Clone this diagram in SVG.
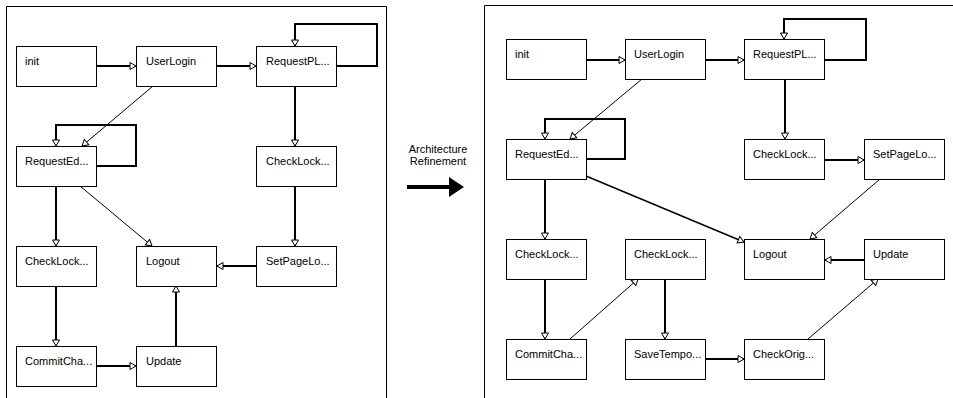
<svg xmlns="http://www.w3.org/2000/svg" width="953" height="398" viewBox="0 0 953 398">
  <style>
    .frame { fill: none; stroke: #000; stroke-width: 1; }
    .node rect { fill: #fff; stroke: #000; stroke-width: 1; }
    .node text, .caption { font-family: "Liberation Sans", Arial, sans-serif; font-size: 11px; fill: #000; }
    .thick { fill: none; stroke: #000; stroke-width: 2; marker-end: url(#tri); }
    .thin { fill: none; stroke: #000; stroke-width: 1; marker-end: url(#tri); }
    .mid { fill: none; stroke: #000; stroke-width: 1.5; marker-end: url(#tri); }
  </style>
  <defs>
    <marker id="tri" markerUnits="userSpaceOnUse" markerWidth="10" markerHeight="10" refX="6" refY="3.5" orient="auto" overflow="visible">
      <path d="M0,0 L6,3.5 L0,7 Z" fill="#fff" stroke="#000" stroke-width="1"/>
    </marker>
  </defs>
  <rect width="953" height="398" fill="#fff"/>

  <!-- panel frames (open at the bottom) -->
  <path class="frame" d="M6.5,398 V6.5 H386.5 V398"/>
  <path class="frame" d="M484.5,398 V5.5 H953"/>

  <!-- left panel connectors -->
  <g id="connectors-left">
    <path class="thick" d="M97,66 H136"/>
    <path class="thick" d="M217,66 H256"/>
    <path class="thick" d="M336,66 H377 V24 H295 V46"/>
    <path class="thin" d="M153,86 L82,146"/>
    <path class="thick" d="M97,166 H136 V125 H56 V146"/>
    <path class="thick" d="M295,86 V146"/>
    <path class="thin" d="M80,186 L152,246"/>
    <path class="thick" d="M56,186 V246"/>
    <path class="thick" d="M295,186 V246"/>
    <path class="thick" d="M256,266 H217"/>
    <path class="thick" d="M56,286 V346"/>
    <path class="thick" d="M97,366 H136"/>
    <path class="thick" d="M176,346 V286"/>
  </g>

  <!-- left panel nodes -->
  <g id="l-init" class="node"><rect x="16.5" y="46.5" width="80" height="40"/><text x="25" y="65">init</text></g>
  <g id="l-userlogin" class="node"><rect x="136.5" y="46.5" width="80" height="40"/><text x="146" y="65">UserLogin</text></g>
  <g id="l-requestpl" class="node"><rect x="256.5" y="46.5" width="80" height="40"/><text x="266" y="65">RequestPL...</text></g>
  <g id="l-requested" class="node"><rect x="16.5" y="146.5" width="80" height="40"/><text x="25" y="165">RequestEd...</text></g>
  <g id="l-checklock-a" class="node"><rect x="256.5" y="146.5" width="80" height="40"/><text x="266" y="165">CheckLock...</text></g>
  <g id="l-checklock-b" class="node"><rect x="16.5" y="246.5" width="80" height="40"/><text x="25" y="265">CheckLock...</text></g>
  <g id="l-logout" class="node"><rect x="136.5" y="246.5" width="80" height="40"/><text x="146" y="265">Logout</text></g>
  <g id="l-setpagelo" class="node"><rect x="256.5" y="246.5" width="80" height="40"/><text x="266" y="265">SetPageLo...</text></g>
  <g id="l-commitcha" class="node"><rect x="16.5" y="346.5" width="80" height="40"/><text x="25" y="365">CommitCha...</text></g>
  <g id="l-update" class="node"><rect x="136.5" y="346.5" width="80" height="40"/><text x="146" y="365">Update</text></g>

  <!-- transition arrow between panels -->
  <g id="refinement">
    <text class="caption" x="438" y="153" text-anchor="middle">Architecture</text>
    <text class="caption" x="438" y="165" text-anchor="middle">Refinement</text>
    <path d="M407,187 H452" stroke="#000" stroke-width="4"/>
    <path d="M449,177 L464,187 L449,197 Z" fill="#000"/>
  </g>

  <!-- right panel connectors -->
  <g id="connectors-right">
    <path class="thick" d="M586,60 H625"/>
    <path class="thick" d="M706,60 H744"/>
    <path class="thick" d="M825,60 H866 V19 H784 V39"/>
    <path class="thin" d="M642,79 L570,139"/>
    <path class="thick" d="M586,159 H625 V119 H545 V139"/>
    <path class="thick" d="M785,79 V139"/>
    <path class="thick" d="M825,160 H864"/>
    <path class="mid" d="M586,176 L744,242"/>
    <path class="thin" d="M880,179 L810,239"/>
    <path class="thick" d="M545,179 V239"/>
    <path class="thick" d="M864,260 H825"/>
    <path class="thick" d="M545,279 V339"/>
    <path class="thin" d="M570,339 L638,279"/>
    <path class="thick" d="M665,279 V339"/>
    <path class="thick" d="M706,359 H744"/>
    <path class="thin" d="M808,339 L878,279"/>
  </g>

  <!-- right panel nodes -->
  <g id="r-init" class="node"><rect x="506.5" y="39.5" width="80" height="40"/><text x="515" y="58">init</text></g>
  <g id="r-userlogin" class="node"><rect x="625.5" y="39.5" width="80" height="40"/><text x="634" y="58">UserLogin</text></g>
  <g id="r-requestpl" class="node"><rect x="744.5" y="39.5" width="80" height="40"/><text x="753" y="58">RequestPL...</text></g>
  <g id="r-requested" class="node"><rect x="506.5" y="139.5" width="80" height="40"/><text x="515" y="158">RequestEd...</text></g>
  <g id="r-checklock-a" class="node"><rect x="744.5" y="139.5" width="80" height="40"/><text x="753" y="158">CheckLock...</text></g>
  <g id="r-setpagelo" class="node"><rect x="864.5" y="139.5" width="80" height="40"/><text x="873" y="158">SetPageLo...</text></g>
  <g id="r-checklock-b" class="node"><rect x="506.5" y="239.5" width="80" height="40"/><text x="515" y="258">CheckLock...</text></g>
  <g id="r-checklock-c" class="node"><rect x="625.5" y="239.5" width="80" height="40"/><text x="634" y="258">CheckLock...</text></g>
  <g id="r-logout" class="node"><rect x="744.5" y="239.5" width="80" height="40"/><text x="753" y="258">Logout</text></g>
  <g id="r-update" class="node"><rect x="864.5" y="239.5" width="80" height="40"/><text x="873" y="258">Update</text></g>
  <g id="r-commitcha" class="node"><rect x="506.5" y="339.5" width="80" height="40"/><text x="515" y="358">CommitCha...</text></g>
  <g id="r-savetempo" class="node"><rect x="625.5" y="339.5" width="80" height="40"/><text x="634" y="358">SaveTempo...</text></g>
  <g id="r-checkorig" class="node"><rect x="744.5" y="339.5" width="80" height="40"/><text x="753" y="358">CheckOrig...</text></g>
</svg>
